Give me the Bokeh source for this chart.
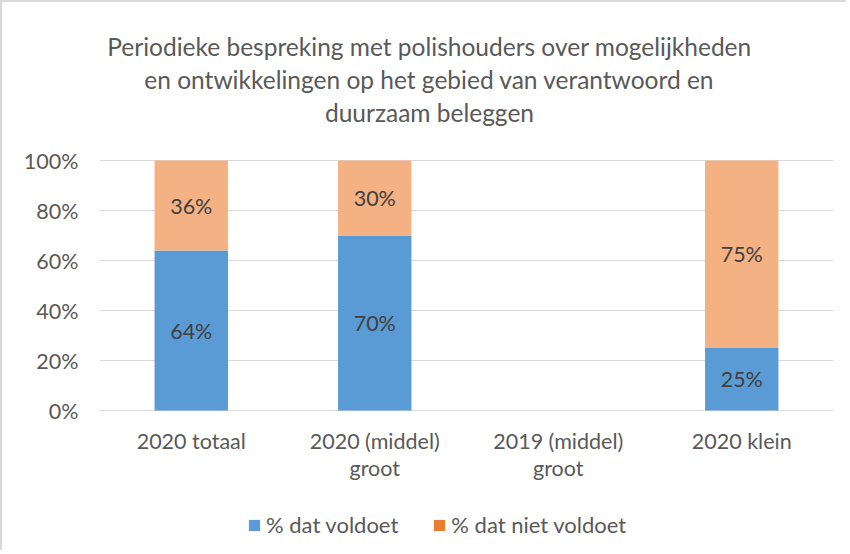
import math
from bokeh.plotting import figure
from bokeh.models import (ColumnDataSource, Legend, LegendItem, FixedTicker,
                          NumeralTickFormatter, Range1d)
from bokeh.core.properties import value
from bokeh.embed import file_html
from bokeh.resources import INLINE

# ---- data ----
categories = ["2020 totaal", "2020 (middel)\ngroot", "2019 (middel)\ngroot", "2020 klein"]
voldoet = [0.64, 0.70, float("nan"), 0.25]
niet_voldoet = [0.36, 0.30, float("nan"), 0.75]
series_names = ["% dat voldoet", "% dat niet voldoet"]
y_ticks = [0, 0.2, 0.4, 0.6, 0.8, 1.0]
title_lines = [
    "Periodieke bespreking met polishouders over mogelijkheden",
    "en ontwikkelingen op het gebied van verantwoord en",
    "duurzaam beleggen",
]

FONT = "Lato"
TXT = "#595959"
BLUE = "#5B9BD5"
ORANGE_BAR = "#F4B183"
ORANGE_LEG = "#ED7D31"

# ---- layout (pixels) ----
W, H = 846, 550
LEFT, RIGHT = 97, 15
ZERO_PX = 408          # distance of the 0% line from the top of the frame
UNIT_PX = 250          # pixels for 0% -> 100%
FRAME_W = W - LEFT - RIGHT
N = len(categories)
X_UNIT_PX = FRAME_W / N

p = figure(x_range=Range1d(0, N),
           y_range=Range1d((ZERO_PX - H) / UNIT_PX, ZERO_PX / UNIT_PX),
           width=W, height=H, output_backend="svg", toolbar_location=None,
           x_axis_location=None,
           min_border_left=LEFT, min_border_right=RIGHT,
           min_border_top=0, min_border_bottom=0)
p.outline_line_color = None
p.styles = {"border-top": "2px solid #d9d9d9", "border-left": "2px solid #d9d9d9"}

xpos = [i + 0.5 for i in range(N)]
bottom2 = voldoet
top2 = [a + b for a, b in zip(voldoet, niet_voldoet)]
src = ColumnDataSource(dict(x=xpos, b1=[0] * N, t1=voldoet, b2=bottom2, t2=top2))
r_blue = p.vbar(x="x", bottom="b1", top="t1", width=0.4, source=src,
                fill_color=BLUE, line_color=None)
p.vbar(x="x", bottom="b2", top="t2", width=0.4, source=src,
       fill_color=ORANGE_BAR, line_color=None)

# data labels
lx, ly, lt = [], [], []
for xp, a, b in zip(xpos, voldoet, niet_voldoet):
    if not math.isnan(a):
        lx += [xp, xp]
        ly += [a / 2, a + b / 2]
        lt += [f"{round(a*100)}%", f"{round(b*100)}%"]
p.text(x=lx, y=ly, text=lt, text_align="center", text_baseline="middle",
       text_font=value(FONT), text_font_size="21.5px", text_color="#404040")

# category labels below the 0% line
p.text(x=xpos, y=[0] * N, text=categories, y_offset=17, text_align="center",
       text_baseline="top", text_line_height=1.05,
       text_font=value(FONT), text_font_size="21.5px", text_color=TXT)

# y axis + grid
p.yaxis.ticker = FixedTicker(ticks=y_ticks)
p.yaxis.formatter = NumeralTickFormatter(format="0%")
p.yaxis.axis_line_color = None
p.yaxis.major_tick_in = 0
p.yaxis.major_tick_out = 0
p.yaxis.minor_tick_line_color = None
p.yaxis.major_label_standoff = 21
p.yaxis.major_label_text_font = FONT
p.yaxis.major_label_text_font_size = "21.5px"
p.yaxis.major_label_text_color = TXT
p.xgrid.grid_line_color = None
p.ygrid.ticker = FixedTicker(ticks=y_ticks)
p.ygrid.grid_line_color = "#d9d9d9"

# title lines (centre at page x 430, rows at page y 47/80/113)
title_cx = (430 - 3 - LEFT) / X_UNIT_PX
title_rows_px = [44, 77, 110]   # from the top of the frame
p.text(x=[title_cx] * 3, y=[(ZERO_PX - r) / UNIT_PX for r in title_rows_px],
       text=title_lines, text_align="center", text_baseline="middle",
       text_font=value(FONT), text_font_size="24.5px", text_color=TXT)

# legend (orange legend swatch is darker than the bar fill)
r_leg2 = p.vbar(x=[xpos[0]], bottom=[0], top=[0], width=0.4,
                fill_color=ORANGE_LEG, line_color=None)
legend = Legend(items=[LegendItem(label=series_names[0], renderers=[r_blue]),
                       LegendItem(label=series_names[1], renderers=[r_leg2])],
                orientation="horizontal", location=(148, 14),
                border_line_color=None, background_fill_alpha=0,
                padding=0, margin=0, spacing=34, label_standoff=5,
                glyph_width=14, glyph_height=14,
                label_text_font=FONT, label_text_font_size="22px",
                label_text_color=TXT)
p.add_layout(legend, "center")

open("out.html", "w").write(file_html(p, INLINE))
